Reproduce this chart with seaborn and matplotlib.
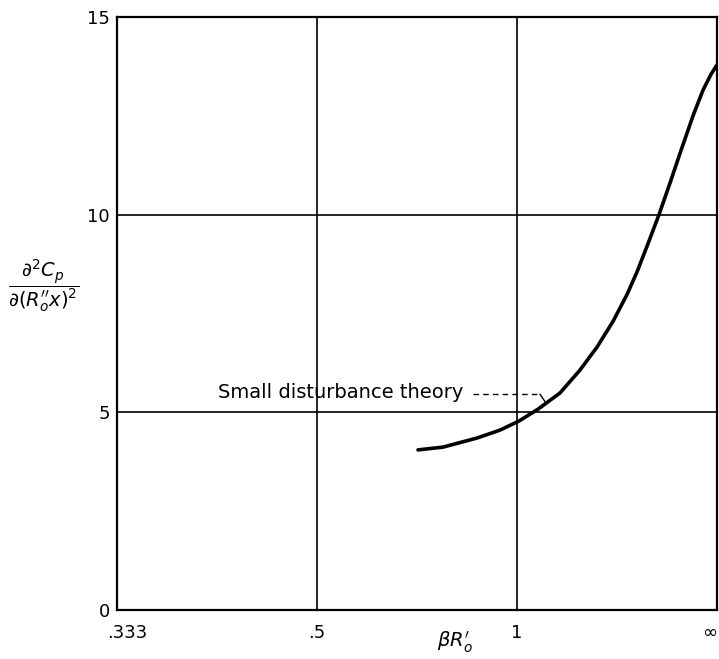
import numpy as np
import pandas as pd
import seaborn as sns
import matplotlib
matplotlib.use("Agg")
import matplotlib.pyplot as plt
import matplotlib.transforms as mtransforms

# curve; x is stored as 1/(beta R'_o) so that the
# axis .333, .5, 1, inf comes out evenly spaced
inv_beta_r = [1.495, 1.37, 1.20, 1.085, 0.99, 0.895, 0.785, 0.685, 0.60, 0.52,
              0.45, 0.40, 0.35, 0.29, 0.235, 0.185, 0.12, 0.07, 0.03, 0.0]
d2cp = [4.05, 4.12, 4.35, 4.55, 4.78, 5.08, 5.49, 6.07, 6.65, 7.30,
        7.98, 8.55, 9.20, 10.0, 10.80, 11.55, 12.50, 13.15, 13.55, 13.79]

x_ticks = [3, 2, 1, 0]
x_ticklabels = [".333", ".5", "1", "\u221e"]
y_ticks = [0, 5, 10, 15]

df = pd.DataFrame({"inv": inv_beta_r, "val": d2cp})

sns.set_style("white")
plt.rcParams["font.family"] = ["DejaVu Sans"]
plt.rcParams["mathtext.fontset"] = "dejavusans"
plt.rcParams["text.color"] = "black"
plt.rcParams["axes.labelcolor"] = "black"

fig = plt.figure(figsize=(7.19, 6.59), dpi=100)
ax = fig.add_axes([117 / 719, 1 - 610 / 659, 600 / 719, 593 / 659])

sns.lineplot(data=df, x="inv", y="val", color="black", linewidth=2.6, sort=False, ax=ax)

ax.set_xlim(3, 0)
ax.set_ylim(0, 15)
ax.set_xticks(x_ticks)
ax.set_xticklabels(x_ticklabels)
ax.set_yticks(y_ticks)
ax.tick_params(axis="both", length=0, labelsize=13, colors="black")
ax.tick_params(axis="x", pad=10)
ax.tick_params(axis="y", pad=5)
labels = ax.get_xticklabels()
labels[0].set_transform(labels[0].get_transform() + mtransforms.ScaledTranslation(0.1, 0, fig.dpi_scale_trans))
labels[-1].set_horizontalalignment("right")
ax.grid(True, color="black", linewidth=1.2)
for s in ax.spines.values():
    s.set_color("black")
    s.set_linewidth(1.6)

ax.set_xlabel(r"$\beta R_o^{\prime}$", fontsize=14, va="center")
ax.xaxis.set_label_coords((455 - 117) / 600, -0.055)
ax.set_ylabel(r"$\dfrac{\partial^2 C_p}{\partial(R_o^{\prime\prime}x)^2}$", fontsize=14,
              rotation=0, va="center", ha="center")
ax.yaxis.set_label_coords(-0.122, 0.546)

# leader for the label
ax.text(2.495, 5.51, "Small disturbance theory", fontsize=14, ha="left", va="center")
ax.plot([1.22, 0.885], [5.46, 5.46], color="black", linewidth=1, linestyle=(0, (4, 3)))
ax.plot([0.885, 0.86], [5.46, 5.27], color="black", linewidth=1)

fig.savefig("out.png", dpi=100)
